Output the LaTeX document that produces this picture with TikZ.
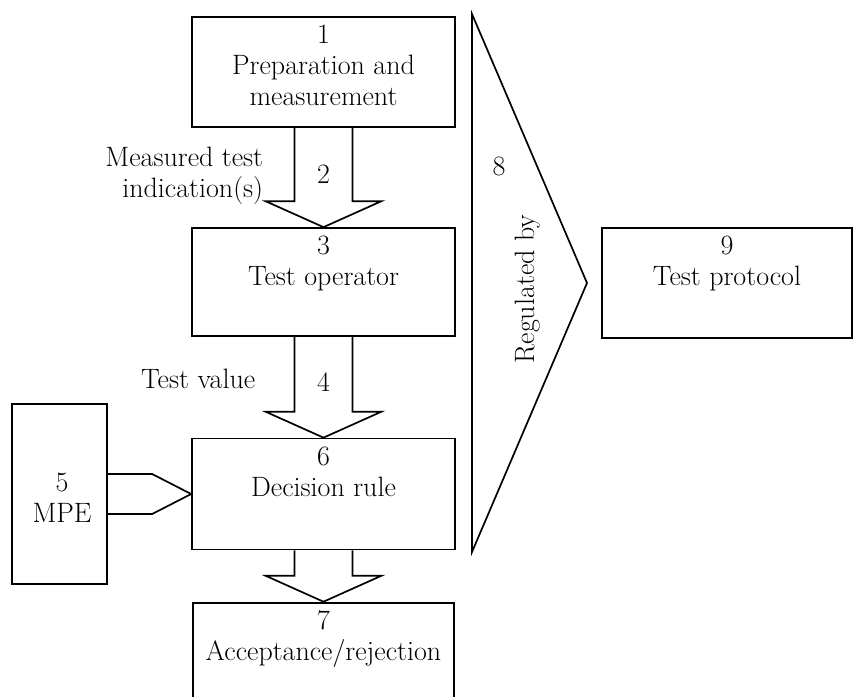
\documentclass[tikz,border=0pt]{standalone}
\usepackage{fontspec}

% block arrow from the bottom of one box into the top of the next
\newcommand{\flowarrow}[2]{%
  \draw ([xshift=-29pt]#1.south) |- ([xshift=-58pt,yshift=26pt]#2.north)
    -- (#2.north) -- ([xshift=58pt,yshift=26pt]#2.north) -| ([xshift=29pt]#1.south);}

\begin{document}
\begin{tikzpicture}[x=1pt,y=-1pt,line width=1.7pt,line join=miter,
  font=\fontsize{28}{31}\selectfont,
  stepbox/.style={draw,minimum width=263pt,minimum height=110pt,inner sep=0pt},
  boxtext/.style={anchor=north,align=center,inner sep=0pt,yshift=-8pt},
  tag/.style={inner sep=0pt}]
\clip (0,0) rectangle (853,696);

% main column
\node[stepbox] (prep) at (323.5,72) {};
\node[boxtext] (prep-t) at (prep.north) {1\\Preparation and\\measurement};
\node[stepbox,minimum height=108pt] (oper) at (323.5,282) {};
\node[boxtext] (oper-t) at (oper.north) {3\\Test operator};
\node[stepbox,minimum height=111pt] (dec) at (323.5,494) {};
\node[boxtext] (dec-t) at (dec.north) {6\\Decision rule};
\node[stepbox,minimum width=261pt,minimum height=130pt,line width=2.6pt] (acc) at (323.5,668) {};
\node[boxtext] (acc-t) at (acc.north) {7\\Acceptance/rejection};

\flowarrow{prep}{oper}
\flowarrow{oper}{dec}
\flowarrow{dec}{acc}

\node[tag,anchor=east,align=right] (meas) at (264,176) {Measured test\\indication(s)};
\node[tag,anchor=base] (two) at (323.5,183) {2};
\node[tag,anchor=base east] (tval) at (256,388) {Test value};
\node[tag,anchor=base] (four) at (323.5,391) {4};

% MPE input on the left
\node[stepbox,minimum width=95pt,minimum height=180pt] (mpe) at (59.5,494) {};
\node[tag,align=center] (mpe-t) at (62,498) {5\\MPE};
\draw ([yshift=20pt]mpe.east) -- ([xshift=-39pt,yshift=20pt]dec.west) -- (dec.west)
  -- ([xshift=-39pt,yshift=-20pt]dec.west) -- ([yshift=-20pt]mpe.east);

% regulation wedge and protocol
\node[stepbox,minimum width=250pt] (prot) at (727,283) {};
\node[boxtext] (prot-t) at (prot.north) {9\\Test protocol};
\coordinate (tip) at (587,283);
\draw (472,14) -- (tip) -- (472,552) -- cycle;
\node[tag] (eight) at (499,166) {8};
\node[tag,rotate=90] (reg) at (528,289) {Regulated by};
\end{tikzpicture}
\end{document}
